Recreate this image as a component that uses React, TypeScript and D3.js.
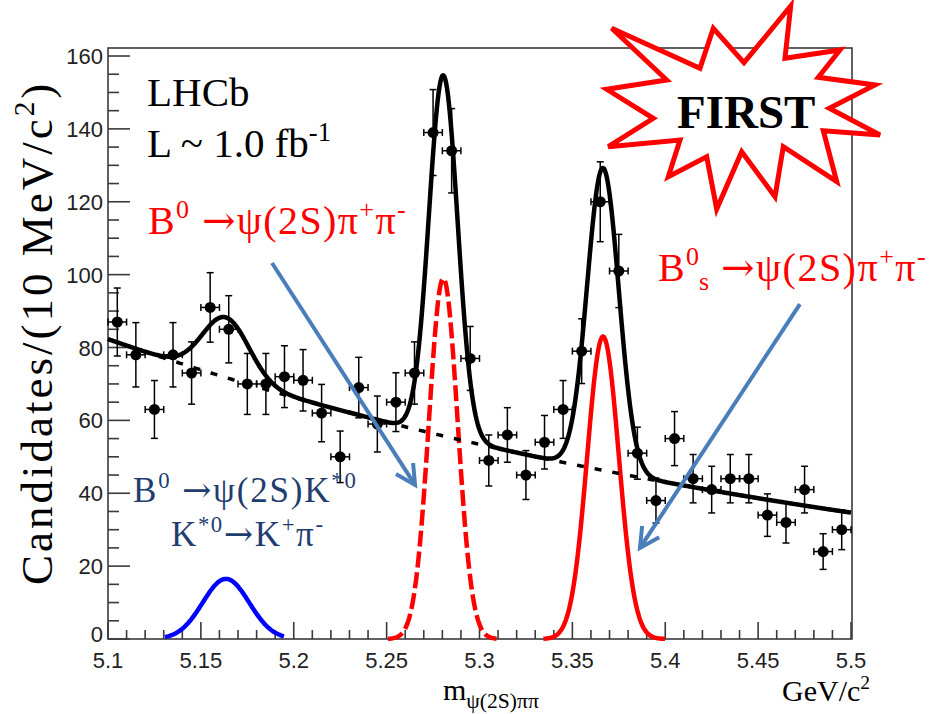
import React from "react";
import * as d3 from "d3";

// m(psi(2S) pi pi) bin centres, GeV/c^2 (10 MeV bins)
const massBins = [
  5.105, 5.115, 5.125, 5.135, 5.145, 5.155, 5.165, 5.175, 5.185, 5.195,
  5.205, 5.215, 5.225, 5.235, 5.245, 5.255, 5.265, 5.275, 5.285, 5.295,
  5.305, 5.315, 5.325, 5.335, 5.345, 5.355, 5.365, 5.375, 5.385, 5.395,
  5.405, 5.415, 5.425, 5.435, 5.445, 5.455, 5.465, 5.475, 5.485, 5.495,
];
// candidates per bin
const counts = [
  87, 78, 63, 78, 73, 91, 85, 70, 70, 72,
  71, 62, 50, 69, 59, 65, 73, 139, 134, 77,
  49, 56, 45, 54, 63, 79, 120, 101, 51, 38,
  55, 44, 41, 44, 44, 34, 32, 41, 24, 30,
];
const binHalfWidth = 0.005;

// fit components: K*0 reflection, B0 signal, Bs signal
const peakMeans = [5.1635, 5.2805, 5.3665];
const peakSigmas = [0.0125, 0.0077, 0.0085];
const peakHeights = [16.5, 99, 83];
const peakRanges: [number, number][] = [
  [5.1307, 5.1948],
  [5.2507, 5.3094],
  [5.3344, 5.3999],
];
const peakColors = ["#0000ff", "#ff0000", "#ff0000"];
const peakDashes = [null, "16,5", null];

// exponential combinatorial background
const bkgAmplitude = 82.3;
const bkgSlope = 2.16;
const massMin = 5.1;
const massMax = 5.5;

const xTickLabels = ["5.1", "5.15", "5.2", "5.25", "5.3", "5.35", "5.4", "5.45", "5.5"];
const yTickLabels = ["0", "20", "40", "60", "80", "100", "120", "140", "160"];

// annotation arrows in (mass, candidates)
const arrowStarts: [number, number][] = [[5.1883, 103.2], [5.4725, 91.9]];
const arrowTips: [number, number][] = [[5.2653, 42.3], [5.3864, 25.0]];

const W = 933;
const H = 714;
const x = d3.scaleLinear().domain([massMin, massMax]).range([108, 851]);
const y = d3.scaleLinear().domain([0, 162.2]).range([639, 48]);

const gauss = (m: number, i: number) =>
  peakHeights[i] * Math.exp(-0.5 * ((m - peakMeans[i]) / peakSigmas[i]) ** 2);
const bkg = (m: number) => bkgAmplitude * Math.exp(-bkgSlope * (m - massMin));
const total = (m: number) => bkg(m) + peakMeans.reduce((s, _, i) => s + gauss(m, i), 0);

const line = d3
  .line<[number, number]>()
  .x((d) => x(d[0]))
  .y((d) => y(d[1]));

const sample = (a: number, b: number, f: (m: number) => number) =>
  d3.range(a, b + 1e-9, 0.0005).map((m) => [m, f(m)] as [number, number]);

const SERIF = "'Liberation Serif', 'Times New Roman', serif";
const SANS = "'Liberation Sans', Arial, sans-serif";
const ARROW_FONT = "'DejaVu Serif', serif";

type Part = { t: string; sup?: boolean; sub?: boolean; font?: string };
const ARROW: Part = { t: "→", font: ARROW_FONT };

function RichText(props: {
  x: number;
  y: number;
  size: number;
  fill: string;
  parts: Part[];
  weight?: string;
  subScale?: number;
  letterSpacing?: number;
}) {
  const { size } = props;
  const small = props.subScale ?? 0.65;
  let shift = 0;
  return (
    <text x={props.x} y={props.y} fontFamily={SERIF} fontSize={size} fill={props.fill}
      fontWeight={props.weight} letterSpacing={props.letterSpacing} style={{ whiteSpace: "pre" }}>
      {props.parts.map((p, i) => {
        const target = p.sup ? -size * 0.4 : p.sub ? size * 0.25 : 0;
        const dy = target - shift;
        shift = target;
        return (
          <tspan key={i} dy={dy} fontSize={p.sup || p.sub ? size * small : size} fontFamily={p.font}>
            {p.t}
          </tspan>
        );
      })}
    </text>
  );
}

function Arrow({ from, to }: { from: [number, number]; to: [number, number] }) {
  const x0 = x(from[0]);
  const y0 = y(from[1]);
  const x1 = x(to[0]);
  const y1 = y(to[1]);
  const ang = Math.atan2(y1 - y0, x1 - x0);
  const len = 22;
  const spread = Math.PI / 6.5;
  const a1: [number, number] = [x1 - len * Math.cos(ang - spread), y1 - len * Math.sin(ang - spread)];
  const a2: [number, number] = [x1 - len * Math.cos(ang + spread), y1 - len * Math.sin(ang + spread)];
  return (
    <g stroke="#4a7ebb" strokeWidth={4} fill="none" strokeLinecap="butt">
      <line x1={x0} y1={y0} x2={x1} y2={y1} />
      <polyline points={`${a1[0]},${a1[1]} ${x1},${y1} ${a2[0]},${a2[1]}`} strokeLinejoin="miter" />
    </g>
  );
}

const starPoints = [
  [611.7, 28.3], [700, 68.3], [713.3, 28.3], [744, 62.7], [790.7, 6], [785, 58.3],
  [840, 50], [818.3, 77.3], [875, 85], [829.3, 108.3], [880, 135], [823.3, 130.7],
  [836.7, 181.7], [783.3, 146.7], [775, 196.7], [741.7, 151.7], [716.7, 209], [706.7, 156.7],
  [668.3, 176.7], [680, 140], [608.3, 146.7], [653.3, 118.3], [606.7, 89.3], [666.7, 80],
];

export default function App() {
  const xTicks = d3.range(0, 41).map((i) => ({ v: massMin + i * 0.01, major: i % 5 === 0 }));
  const yTicks = d3.range(0, 33).map((i) => ({ v: i * 5, major: i % 4 === 0 }));
  const axisColor = "#3a3a3a";

  return (
    <svg
      width={W}
      height={H}
      viewBox={`0 0 ${W} ${H}`}
      style={{ position: "absolute", left: 0, top: 0, background: "#fff" }}
    >
      <rect x={0} y={0} width={W} height={H} fill="#fff" />

      {/* frame */}
      <rect x={x(massMin)} y={y.range()[1]} width={x(massMax) - x(massMin) + 1} height={y(0) - y.range()[1]}
        fill="none" stroke={axisColor} strokeWidth={1.6} />

      {/* x ticks */}
      {xTicks.map((t, i) => (
        <line key={"xt" + i} x1={x(t.v)} x2={x(t.v)} y1={y(0)} y2={y(0) - (t.major ? 17 : 9)}
          stroke={axisColor} strokeWidth={1.6} />
      ))}
      {xTickLabels.map((s, i) => (
        <text key={"xl" + i} x={x(massMin + i * 0.05)} y={668} textAnchor="middle" fontFamily={SANS}
          fontSize={22} fill="#222">{s}</text>
      ))}

      {/* y ticks */}
      {yTicks.map((t, i) => (
        <line key={"yt" + i} x1={x(massMin)} x2={x(massMin) + (t.major ? 22 : 11)} y1={y(t.v)} y2={y(t.v)}
          stroke={axisColor} strokeWidth={1.6} />
      ))}
      {yTickLabels.map((s, i) => (
        <text key={"yl" + i} x={103} y={y(i * 20) + (i === 0 ? 3 : 8)} textAnchor="end" fontFamily={SANS}
          fontSize={22} fill="#222">{s}</text>
      ))}

      {/* fit components */}
      {peakMeans.map((_, i) => (
        <path key={"pk" + i} d={line(sample(peakRanges[i][0], peakRanges[i][1], (m) => gauss(m, i))) || ""}
          fill="none" stroke={peakColors[i]} strokeWidth={4.5}
          strokeDasharray={peakDashes[i] || undefined} />
      ))}
      <path d={line(sample(massMin, massMax, bkg)) || ""} fill="none" stroke="#000" strokeWidth={3.5}
        strokeDasharray="7,11" />
      <path d={line(sample(massMin, massMax, total)) || ""} fill="none" stroke="#000" strokeWidth={4.5}
        strokeLinejoin="round" />

      {/* data points with errors */}
      {massBins.map((m, i) => {
        const n = counts[i];
        const e = Math.sqrt(n);
        const cx = x(m);
        const cy = y(n);
        const xl = x(m - binHalfWidth);
        const xr = x(m + binHalfWidth);
        const yt = y(n + e);
        const yb = y(n - e);
        return (
          <g key={"pt" + i} stroke="#000" strokeWidth={1.5}>
            <line x1={xl} x2={xr} y1={cy} y2={cy} />
            <line x1={xl} x2={xl} y1={cy - 3.5} y2={cy + 3.5} />
            <line x1={xr} x2={xr} y1={cy - 3.5} y2={cy + 3.5} />
            <line x1={cx} x2={cx} y1={yt} y2={yb} />
            <line x1={cx - 3.5} x2={cx + 3.5} y1={yt} y2={yt} />
            <line x1={cx - 3.5} x2={cx + 3.5} y1={yb} y2={yb} />
            <circle cx={cx} cy={cy} r={5.5} fill="#000" stroke="none" />
          </g>
        );
      })}

      {/* arrows */}
      {arrowStarts.map((s, i) => (
        <Arrow key={"ar" + i} from={s} to={arrowTips[i]} />
      ))}

      {/* labels */}
      <text x={147} y={106} fontFamily={SERIF} fontSize={41} fill="#000">LHCb</text>
      <RichText x={147} y={157} size={41} fill="#000" parts={[{ t: "L ~ 1.0 fb" }, { t: "-1", sup: true }]} />

      <RichText x={148} y={234} size={40} fill="#ff0000" letterSpacing={1.4}
        parts={[{ t: "B" }, { t: "0", sup: true }, { t: " " }, ARROW, { t: "ψ(2S)π" }, { t: "+", sup: true }, { t: "π" }, { t: "-", sup: true }]} />

      <text x={658} y={281} fontFamily={SERIF} fontSize={40} fill="#ff0000">B</text>
      <text x={686} y={265} fontFamily={SERIF} fontSize={26} fill="#ff0000">0</text>
      <text x={699} y={290} fontFamily={SERIF} fontSize={26} fill="#ff0000">s</text>
      <RichText x={721} y={281} size={40} fill="#ff0000" letterSpacing={1.5}
        parts={[ARROW, { t: "ψ(2S)π" }, { t: "+", sup: true }, { t: "π" }, { t: "-", sup: true }]} />

      <RichText x={133} y={502} size={35} fill="#1f3d6e" letterSpacing={1.8}
        parts={[{ t: "B" }, { t: "0", sup: true }, { t: " " }, ARROW, { t: "ψ(2S)K" }, { t: "*0", sup: true }]} />
      <RichText x={171} y={546} size={35} fill="#1f3d6e" letterSpacing={1.6}
        parts={[{ t: "K" }, { t: "*0", sup: true }, ARROW, { t: "K" }, { t: "+", sup: true }, { t: "π" }, { t: "-", sup: true }]} />

      {/* axis titles */}
      <g transform="translate(52,330) rotate(-90)">
        <RichText x={-255} y={0} size={45} fill="#000" letterSpacing={3}
          parts={[{ t: "Candidates/(10 MeV/c" }, { t: "2", sup: true }, { t: ")" }]} />
      </g>
      <RichText x={443} y={700} size={30} fill="#000" subScale={0.72}
        parts={[{ t: "m" }, { t: "ψ(2S)ππ", sub: true }]} />
      <RichText x={782} y={701} size={30} fill="#000" parts={[{ t: "GeV/c" }, { t: "2", sup: true }]} />

      {/* starburst */}
      <polygon points={starPoints.map((p) => p.join(",")).join(" ")} fill="#fff" stroke="#ff0000"
        strokeWidth={5} strokeLinejoin="miter" />
      <text x={677} y={128} fontFamily={SERIF} fontSize={47} fontWeight="bold" fill="#000">FIRST</text>
    </svg>
  );
}
